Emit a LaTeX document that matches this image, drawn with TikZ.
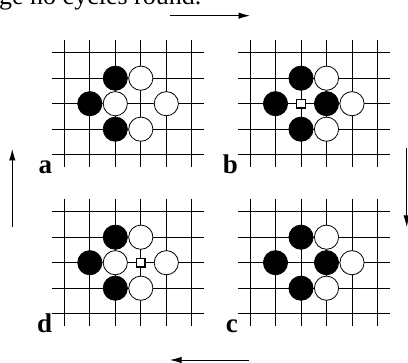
\documentclass[tikz,border=0pt]{standalone}
\usepackage{fontspec}
\setmainfont{Liberation Serif}
\usetikzlibrary{arrows.meta,positioning}

\begin{document}
\begin{tikzpicture}[x=1pt, y=-1pt,
  grid/.style={line width=0.7pt, black},
  bst/.style={circle, draw=black, fill=black, line width=0.8pt, minimum size=24.2pt, inner sep=0pt},
  wst/.style={circle, draw=black, fill=white, line width=0.8pt, minimum size=24.2pt, inner sep=0pt},
  sq/.style={rectangle, draw=black, fill=white, line width=1.4pt, minimum size=8.6pt, inner sep=0pt},
  lbl/.style={font=\bfseries\fontsize{27}{27}\selectfont, anchor=base east, inner sep=0pt},
  arr/.style={-{Latex[length=11.5pt,width=6.5pt]}, line width=0.9pt}]
  \useasboundingbox (0,0) rectangle (408,363);
  \clip (0,0) rectangle (408,363);
  % end of the line above the figure
  \node[anchor=base west, inner sep=0pt, font=\fontsize{26}{26}\selectfont] (cap) at (-1,4.5) {ge no cycles round.};
  % the four boards
  \foreach \bd/\bx/\by in {a/64.3/52.7, b/250/52.7, c/250/211.7, d/64.3/211.7} {
    \begin{scope}[shift={(\bx,\by)}]
      \foreach \r in {0,...,4}
        \draw[grid] (-12,\r*25.5) -- (139.5,\r*25.5);
      \foreach \c in {0,...,5}
        \draw[grid] (\c*25.5,-12.7) -- (\c*25.5,114.7);
      \node[lbl] (l\bd) at (-12,121) {\bd};
    \end{scope}
  }
  % stones
  \begin{scope}[shift={(64.3,52.7)}]
    \foreach \c/\r/\s in {2/1/bst, 3/1/wst, 1/2/bst, 2/2/wst, 4/2/wst, 2/3/bst, 3/3/wst}
      \node[\s] (a\c\r) at (\c*25.5,\r*25.5) {};
  \end{scope}
  \begin{scope}[shift={(250,52.7)}]
    \foreach \c/\r/\s in {2/1/bst, 3/1/wst, 1/2/bst, 3/2/bst, 4/2/wst, 2/3/bst, 3/3/wst}
      \node[\s] (b\c\r) at (\c*25.5,\r*25.5) {};
    \node[sq] (b22) at (2*25.5,2*25.5) {};
  \end{scope}
  \begin{scope}[shift={(250,211.7)}]
    \foreach \c/\r/\s in {2/1/bst, 3/1/wst, 1/2/bst, 3/2/bst, 4/2/wst, 2/3/bst, 3/3/wst}
      \node[\s] (c\c\r) at (\c*25.5,\r*25.5) {};
  \end{scope}
  \begin{scope}[shift={(64.3,211.7)}]
    \foreach \c/\r/\s in {2/1/bst, 3/1/wst, 1/2/bst, 2/2/wst, 4/2/wst, 2/3/bst, 3/3/wst}
      \node[\s] (d\c\r) at (\c*25.5,\r*25.5) {};
    \node[sq] (d32) at (3*25.5,2*25.5) {};
  \end{scope}
  % cycle arrows
  \coordinate (t0) at (170,15.7);
  \coordinate (t1) at (250,15.7);
  \coordinate (r0) at (406.7,148);
  \coordinate (r1) at (406.7,227);
  \coordinate (u0) at (249,360);
  \coordinate (u1) at (170,360);
  \coordinate (l0) at (12.3,227);
  \coordinate (l1) at (12.3,149);
  \draw[arr] (t0) -- (t1);
  \draw[arr] (r0) -- (r1);
  \draw[arr] (u0) -- (u1);
  \draw[arr] (l0) -- (l1);
\end{tikzpicture}
\end{document}
